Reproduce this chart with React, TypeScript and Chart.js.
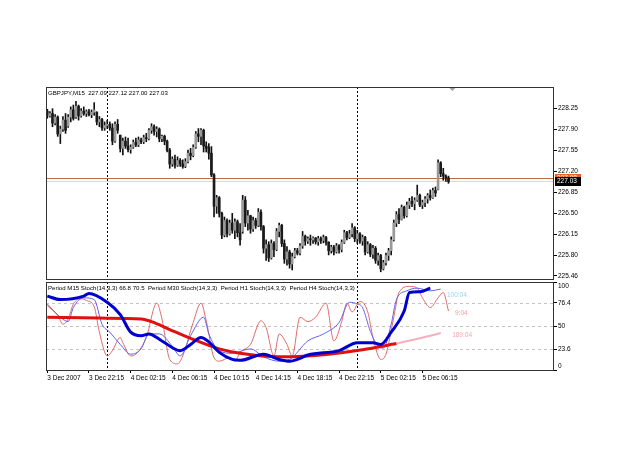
import React, { useEffect, useRef } from 'react';
import { Chart, registerables } from 'chart.js';

Chart.register(...registerables);

const SYMBOL_HEADER = 'GBPJPY,M15  227.09 227.12 227.00 227.03';
const STOCH_HEADER = 'Period M15 Stoch(14,3,3) 66.8 70.5  Period M30 Stoch(14,3,3)  Period H1 Stoch(14,3,3)  Period H4 Stoch(14,3,3)';

const TIME_LABELS = ['3 Dec 2007', '3 Dec 22:15', '4 Dec 02:15', '4 Dec 06:15', '4 Dec 10:15', '4 Dec 14:15', '4 Dec 18:15', '4 Dec 22:15', '5 Dec 02:15', '5 Dec 06:15'];
const TIME_LABEL_BARS = [0, 16, 32, 48, 64, 80, 96, 112, 128, 144];
const SEPARATOR_BARS = [23, 119];
const TOTAL_SLOTS = 195;
const SHIFT_MARK_BAR = 155.5;

const PRICE_TICKS = [225.46, 225.8, 226.15, 226.5, 226.85, 227.2, 227.55, 227.9, 228.25];
const PRICE_MIN = 225.41;
const PRICE_MAX = 228.6;
const BID = 227.03;
const ASK = 227.08;

const OPEN = [228.20,228.12,228.16,228.00,228.10,227.82,227.90,228.05,227.95,228.10,228.22,228.10,228.28,228.12,228.20,228.16,228.19,228.14,228.18,228.18,228.02,228.06,227.92,227.96,227.98,227.92,227.70,227.98,227.80,227.58,227.70,227.62,227.56,227.60,227.68,227.64,227.72,227.69,227.76,227.74,227.88,227.94,227.86,227.90,227.74,227.78,227.70,227.55,227.32,227.40,227.30,227.38,227.32,227.28,227.36,227.50,227.46,227.60,227.82,227.78,227.88,227.62,227.60,227.50,227.14,226.62,226.76,226.50,226.14,226.38,226.16,226.34,226.22,226.36,226.18,226.20,226.72,226.34,226.46,226.24,226.38,226.30,226.52,226.28,225.92,225.98,225.76,226.00,225.90,226.20,226.30,226.00,225.74,225.86,225.66,225.78,225.88,225.84,225.96,226.12,226.04,226.08,226.06,226.09,226.03,226.08,226.05,226.10,226.02,225.88,225.94,225.86,225.96,225.90,226.02,226.18,226.10,226.16,226.26,226.08,226.16,226.04,226.10,225.86,225.98,225.82,225.92,225.72,225.80,225.58,225.68,225.80,225.88,226.06,226.34,226.48,226.40,226.60,226.46,226.64,226.70,226.66,226.72,226.80,226.64,226.68,226.74,226.80,226.76,226.88,226.90,227.34,227.16,227.12,227.09];
const HIGH = [228.23,228.19,228.24,228.14,228.12,227.95,228.11,228.16,228.14,228.27,228.30,228.36,228.30,228.24,228.27,228.22,228.23,228.22,228.34,228.19,228.11,228.08,228.02,228.05,228.02,227.99,228.02,228.06,227.80,227.75,227.77,227.75,227.64,227.72,227.75,227.77,227.75,227.80,227.83,227.91,227.99,227.97,227.94,227.92,227.80,227.80,227.72,227.58,227.44,227.47,227.44,227.41,227.39,227.41,227.55,227.58,227.64,227.86,227.91,227.91,227.90,227.69,227.66,227.61,227.16,226.80,226.78,226.52,226.44,226.41,226.39,226.50,226.41,226.39,226.33,226.80,226.78,226.55,226.47,226.44,226.42,226.58,226.56,226.30,226.06,226.03,226.06,226.03,226.25,226.34,226.32,226.06,225.95,225.89,225.84,225.92,225.92,226.00,226.20,226.14,226.11,226.14,226.11,226.10,226.12,226.11,226.14,226.12,226.03,225.97,225.97,226.00,225.98,226.06,226.22,226.20,226.22,226.33,226.28,226.22,226.18,226.14,226.12,226.03,226.00,225.97,225.95,225.84,225.82,225.72,225.84,225.92,226.11,226.39,226.53,226.58,226.64,226.62,226.69,226.75,226.78,226.76,226.97,226.82,226.72,226.78,226.83,226.89,226.92,226.94,227.39,227.36,227.25,227.14,227.12];
const LOW = [228.08,228.10,227.94,227.97,227.78,227.66,227.86,227.83,227.93,228.02,228.05,228.08,228.05,228.10,228.13,228.11,228.12,228.09,228.13,227.97,227.94,227.88,227.88,227.91,227.88,227.64,227.68,227.83,227.52,227.47,227.58,227.52,227.50,227.58,227.61,227.61,227.66,227.66,227.69,227.72,227.83,227.80,227.77,227.69,227.69,227.64,227.52,227.25,227.28,227.25,227.28,227.28,227.25,227.26,227.34,227.39,227.44,227.58,227.69,227.64,227.52,227.52,227.40,227.11,226.44,226.50,226.44,226.08,226.11,226.11,226.14,226.17,226.08,226.11,225.97,226.17,226.28,226.22,226.17,226.20,226.25,226.28,226.22,225.84,225.72,225.70,225.74,225.78,225.88,226.11,225.95,225.67,225.64,225.59,225.56,225.76,225.81,225.81,225.92,225.97,226.00,225.97,226.00,225.99,225.97,226.00,226.01,225.97,225.81,225.84,225.81,225.84,225.84,225.86,226.00,226.06,226.08,226.11,226.03,226.00,226.00,225.97,225.81,225.84,225.78,225.75,225.67,225.64,225.53,225.56,225.64,225.72,225.81,226.04,226.28,226.33,226.39,226.42,226.44,226.58,226.61,226.56,226.70,226.61,226.58,226.61,226.67,226.72,226.75,226.78,226.89,227.11,227.05,227.03,227.00];
const CLOSE = [228.12,228.16,228.00,228.10,227.82,227.90,228.05,227.88,228.10,228.22,228.08,228.28,228.12,228.20,228.16,228.19,228.14,228.18,228.22,228.02,228.06,227.92,227.96,227.98,227.92,227.70,227.98,227.88,227.58,227.70,227.62,227.56,227.60,227.68,227.64,227.72,227.69,227.76,227.74,227.88,227.94,227.86,227.90,227.74,227.78,227.70,227.55,227.32,227.40,227.30,227.38,227.32,227.28,227.36,227.50,227.46,227.60,227.82,227.78,227.88,227.62,227.58,227.50,227.14,226.62,226.76,226.50,226.14,226.38,226.16,226.34,226.22,226.36,226.18,226.06,226.72,226.34,226.46,226.24,226.38,226.30,226.52,226.28,225.92,225.98,225.76,226.00,225.90,226.20,226.30,226.00,225.74,225.86,225.66,225.78,225.88,225.84,225.96,226.12,226.04,226.08,226.06,226.09,226.03,226.08,226.05,226.10,226.02,225.88,225.94,225.86,225.96,225.90,226.02,226.18,226.10,226.16,226.26,226.08,226.16,226.04,226.10,225.86,225.98,225.82,225.92,225.72,225.80,225.58,225.68,225.80,225.88,226.06,226.34,226.48,226.40,226.60,226.46,226.64,226.70,226.66,226.72,226.80,226.64,226.68,226.74,226.80,226.76,226.88,226.84,227.34,227.16,227.12,227.09,227.03];

const STOCH_TICKS = [0, 23.6, 50, 76.4, 100];
const STOCH_LEVELS = [23.6, 50, 76.4];

const M15_BARS = [0,4,6,8,10,13,15,18,20,23,25,28,29,32,34,38,42,44,47,50,52,56,59,61,64,66,70,72,74,78,82,84,87,89,92,94,97,100,103,107,110,113,115,117,120,123,125,128,130,133,135,139,142,144,147,150,152,154];
const M15_VALUES = [73,62,52,58,75,81,79,72,43,16,22,37,31,16,18,37,76,58,12,7,16,54,76,56,14,10,14,10,20,29,56,48,16,41,29,16,60,55,60,76,33,55,76,66,78,66,37,12,18,60,88,95,93,82,71,82,88,67];
const M30_BARS = [0,5,8,10,14,18,21,24,28,32,36,39,43,48,51,55,60,62,66,71,78,83,89,93,100,106,112,116,119,121,124,127,129,132,134,138,142,147,151];
const M30_VALUES = [75,60,55,71,82,80,52,43,29,18,24,41,41,27,16,39,60,41,22,19,24,15,10,12,33,41,54,77,75,71,44,27,25,52,80,90,93,90,92];
const H1_BARS = [0,5,14,16,23,28,32,36,39,44,51,55,59,62,66,71,74,83,89,93,96,100,112,119,125,128,132,137,139,143,147];
const H1_VALUES = [84,80,84,87,77,63,43,39,41,33,22,29,37,32,20,12,11,18,12,10,12,17,22,31,31,29,43,67,88,89,93];
const H4_BARS = [0,20,36,40,47,55,66,74,89,100,108,121,134];
const H4_VALUES = [60,59,58,55,46,36,24,19,15,16,18,23,30];
const H4_LIVE_BARS = [134,147,151];
const H4_LIVE_VALUES = [30,39,42];

const TIMER_TEXTS = ['100:04', '9:04', '189:04'];
const TIMER_BARS = [153.4, 156.5, 155.4];
const TIMER_VALUES = [85, 65, 39];
const TIMER_COLORS = ['#98d8e6', '#f2a0a0', '#f2a8b2'];

const FONT = '"Liberation Sans", Arial, sans-serif';
const FS = 6.5;
const HEADER_FS = 6.1;

const pts = (xs: number[], ys: number[]) => xs.map((x, i) => ({ x, y: ys[i] }));

export default function App() {
  const mainRef = useRef<HTMLCanvasElement>(null);
  const stochRef = useRef<HTMLCanvasElement>(null);

  useEffect(() => {
    const idx = CLOSE.map((_, i) => i);
    const wickData = idx.map((i) => ({ x: i, y: [LOW[i], HIGH[i]] }));
    const bodyData = idx.map((i) => ({ x: i, y: [OPEN[i], CLOSE[i]] }));
    const bodyColors = idx.map((i) => (CLOSE[i] >= OPEN[i] ? '#999999' : '#1a1a1a'));

    const hline = (ctx: CanvasRenderingContext2D, x1: number, y: number, x2: number) => {
      ctx.beginPath(); ctx.moveTo(x1, y); ctx.lineTo(x2, y); ctx.stroke();
    };
    const vline = (ctx: CanvasRenderingContext2D, x: number, y1: number, y2: number) => {
      ctx.beginPath(); ctx.moveTo(x, y1); ctx.lineTo(x, y2); ctx.stroke();
    };

    const mainDecor = {
      id: 'mainDecor',
      beforeDatasetsDraw(chart: any) {
        const { ctx, chartArea: a, scales } = chart;
        ctx.save();
        ctx.lineWidth = 1;
        ctx.strokeStyle = '#d9d9d9';
        hline(ctx, a.left, Math.round(scales.y.getPixelForValue(BID)) + 0.5, a.right);
        ctx.strokeStyle = '#c46a46';
        hline(ctx, a.left, Math.round(scales.y.getPixelForValue(ASK)) + 0.5, a.right);
        ctx.strokeStyle = '#000';
        ctx.setLineDash([2, 2]);
        SEPARATOR_BARS.forEach((b) => vline(ctx, Math.round(scales.x.getPixelForValue(b)) + 0.5, a.top, a.bottom));
        ctx.restore();
      },
      afterDraw(chart: any) {
        const { ctx, chartArea: a, scales } = chart;
        ctx.save();
        ctx.strokeStyle = '#333';
        ctx.lineWidth = 1;
        ctx.strokeRect(a.left + 0.5, a.top + 0.5, a.right - a.left - 1, a.bottom - a.top);
        ctx.textBaseline = 'middle';
        ctx.textAlign = 'left';
        ctx.fillStyle = '#000';
        ctx.font = `${HEADER_FS}px ${FONT}`;
        ctx.fillText(SYMBOL_HEADER, a.left + 2, a.top + 6);
        ctx.font = `${FS}px ${FONT}`;
        const tag = (price: number, bg: string, fg: string) => {
          const yy = scales.y.getPixelForValue(price);
          ctx.fillStyle = bg;
          ctx.fillRect(a.right + 1, Math.round(yy - 4.5), 26, 9);
          ctx.fillStyle = fg;
          ctx.fillText(price.toFixed(2), a.right + 3, yy);
        };
        tag(ASK, '#e8641e', '#ffffff');
        tag(BID, '#000000', '#ffffff');
        const sx = scales.x.getPixelForValue(SHIFT_MARK_BAR);
        ctx.fillStyle = '#a0a0a0';
        ctx.beginPath();
        ctx.moveTo(sx - 3, a.top + 1);
        ctx.lineTo(sx + 3, a.top + 1);
        ctx.lineTo(sx, a.top + 4);
        ctx.closePath();
        ctx.fill();
        ctx.restore();
      },
    };

    const stochDecor = {
      id: 'stochDecor',
      beforeDatasetsDraw(chart: any) {
        const { ctx, chartArea: a, scales } = chart;
        ctx.save();
        ctx.lineWidth = 1;
        ctx.strokeStyle = '#c4c4c4';
        ctx.setLineDash([3, 3]);
        STOCH_LEVELS.forEach((v) => hline(ctx, a.left, Math.round(scales.y.getPixelForValue(v)) + 0.5, a.right));
        ctx.strokeStyle = '#000';
        ctx.setLineDash([2, 2]);
        SEPARATOR_BARS.forEach((b) => vline(ctx, Math.round(scales.x.getPixelForValue(b)) + 0.5, a.top, a.bottom));
        ctx.restore();
      },
      afterDraw(chart: any) {
        const { ctx, chartArea: a, scales } = chart;
        ctx.save();
        ctx.strokeStyle = '#333';
        ctx.lineWidth = 1;
        ctx.strokeRect(a.left + 0.5, a.top + 0.5, a.right - a.left - 1, a.bottom - a.top);
        ctx.textBaseline = 'middle';
        ctx.textAlign = 'left';
        ctx.fillStyle = '#000';
        ctx.font = `${HEADER_FS}px ${FONT}`;
        ctx.fillText(STOCH_HEADER, a.left + 2, a.top + 6);
        ctx.font = `${FS}px ${FONT}`;
        TIMER_TEXTS.forEach((t, i) => {
          ctx.fillStyle = TIMER_COLORS[i];
          ctx.fillText(t, scales.x.getPixelForValue(TIMER_BARS[i]), scales.y.getPixelForValue(TIMER_VALUES[i]));
        });
        ctx.restore();
      },
    };

    const tickFont = { family: FONT, size: FS };

    const main = new Chart(mainRef.current as HTMLCanvasElement, {
      type: 'bar',
      data: {
        datasets: [
          { data: bodyData as any, backgroundColor: bodyColors, barThickness: 2, grouped: false, minBarLength: 1, borderWidth: 0 } as any,
          { data: wickData as any, backgroundColor: '#111111', barThickness: 1, grouped: false, borderWidth: 0 } as any,
        ],
      },
      options: {
        animation: false,
        responsive: false,
        devicePixelRatio: 1,
        layout: { padding: { top: 87, left: 46, right: 0, bottom: 190 } },
        plugins: { legend: { display: false }, tooltip: { enabled: false } },
        scales: {
          x: { type: 'linear', min: -0.5, max: TOTAL_SLOTS - 0.5, offset: false, display: false },
          y: {
            type: 'linear', position: 'right', min: PRICE_MIN, max: PRICE_MAX,
            afterBuildTicks: (s: any) => { s.ticks = PRICE_TICKS.map((v) => ({ value: v })); },
            afterFit: (s: any) => { s.width = 71; },
            ticks: { color: '#000', font: tickFont, padding: 1, callback: (v: any) => Number(v).toFixed(2) },
            grid: { drawOnChartArea: false, drawTicks: true, tickLength: 3, tickColor: '#000', color: '#000' },
            border: { display: false },
          },
        } as any,
      },
      plugins: [mainDecor],
    });

    const stoch = new Chart(stochRef.current as HTMLCanvasElement, {
      type: 'line',
      data: {
        datasets: [
          { data: pts(H1_BARS, H1_VALUES), borderColor: '#0000cc', borderWidth: 3 },
          { data: pts(H4_BARS, H4_VALUES), borderColor: '#e01010', borderWidth: 3 },
          { data: pts(H4_LIVE_BARS, H4_LIVE_VALUES), borderColor: '#f4b0bc', borderWidth: 2 },
          { data: pts(M30_BARS, M30_VALUES), borderColor: '#6262ee', borderWidth: 1 },
          { data: pts(M15_BARS, M15_VALUES), borderColor: '#e06a6a', borderWidth: 1 },
        ].map((d) => ({ ...d, pointRadius: 0, fill: false, cubicInterpolationMode: 'monotone' as const })),
      },
      options: {
        animation: false,
        responsive: false,
        devicePixelRatio: 1,
        layout: { padding: { top: 282, left: 46, right: 0, bottom: 0 } },
        plugins: { legend: { display: false }, tooltip: { enabled: false } },
        scales: {
          x: {
            type: 'linear', position: 'bottom', min: -0.5, max: TOTAL_SLOTS - 0.5, offset: false,
            afterBuildTicks: (s: any) => { s.ticks = TIME_LABEL_BARS.map((v) => ({ value: v })); },
            afterFit: (s: any) => { s.height = 99; },
            ticks: {
              autoSkip: false, maxRotation: 0, minRotation: 0, align: 'start', padding: 1, color: '#000', font: tickFont,
              callback: (v: any) => { const k = TIME_LABEL_BARS.indexOf(Number(v)); return k >= 0 ? TIME_LABELS[k] : ''; },
            },
            grid: { drawOnChartArea: false, drawTicks: true, tickLength: 3, tickColor: '#000', color: '#000' },
            border: { display: false },
          },
          y: {
            type: 'linear', position: 'right', min: 0, max: 100,
            afterBuildTicks: (s: any) => { s.ticks = STOCH_TICKS.map((v) => ({ value: v })); },
            afterFit: (s: any) => { s.width = 71; },
            ticks: {
              color: '#000', font: tickFont, padding: 1,
              callback: (v: any) => (Number(v) === 100 ? ['', '100'] : Number(v) === 0 ? ['0', ''] : String(v)),
            },
            grid: { drawOnChartArea: false, drawTicks: true, tickLength: 3, tickColor: '#000', color: '#000' },
            border: { display: false },
          },
        } as any,
      },
      plugins: [stochDecor],
    });

    return () => { main.destroy(); stoch.destroy(); };
  }, []);

  return (
    <div style={{ position: 'fixed', left: 0, top: 0, width: 625, height: 469, background: '#ffffff' }}>
      <canvas ref={mainRef} width={625} height={469} style={{ position: 'absolute', left: 0, top: 0, width: 625, height: 469 }} />
      <canvas ref={stochRef} width={625} height={469} style={{ position: 'absolute', left: 0, top: 0, width: 625, height: 469 }} />
    </div>
  );
}
